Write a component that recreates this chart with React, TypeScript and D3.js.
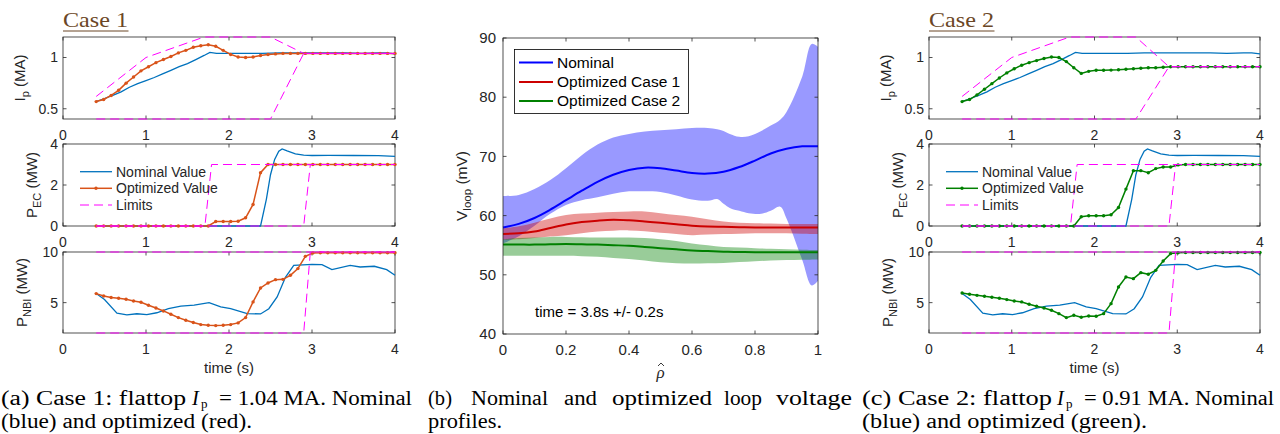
import React from 'react';
import * as d3 from 'd3';

// ---- time traces (s) ----
const tOpt = [0.4, 0.49, 0.58, 0.67, 0.76, 0.85, 0.94, 1.03, 1.12, 1.21, 1.3, 1.39, 1.48, 1.57, 1.66, 1.75, 1.84, 1.93, 2.02, 2.11,
  2.2, 2.29, 2.38, 2.47, 2.56, 2.65, 2.74, 2.83, 2.92, 3.01, 3.1, 3.19, 3.28, 3.37, 3.46, 3.55, 3.64, 3.73, 3.82, 3.91, 4.0];

const tIpNom = [0.4, 0.5, 0.6, 0.7, 0.8, 0.9, 1.0, 1.1, 1.2, 1.3, 1.4, 1.5, 1.6, 1.7, 1.77, 1.85, 2.0, 2.2, 2.4, 2.6, 2.8, 3.0, 3.2, 3.4, 3.6, 3.8, 3.9, 4.0];
const ipNom = [0.57, 0.6, 0.63, 0.665, 0.71, 0.745, 0.775, 0.805, 0.84, 0.875, 0.91, 0.94, 0.98, 1.02, 1.05, 1.04, 1.04, 1.04, 1.04, 1.045, 1.045, 1.045, 1.045, 1.045, 1.04, 1.045, 1.045, 1.035];

const ip1Opt = [0.57, 0.59, 0.63, 0.68, 0.75, 0.81, 0.87, 0.91, 0.95, 0.98, 1.01, 1.045, 1.07, 1.1, 1.115, 1.125, 1.11, 1.07, 1.03, 1.005,
  1.0, 1.005, 1.02, 1.03, 1.035, 1.04, 1.04, 1.04, 1.04, 1.04, 1.04, 1.04, 1.04, 1.04, 1.04, 1.04, 1.04, 1.04, 1.04, 1.04, 1.04];
const ip2Opt = [0.57, 0.59, 0.635, 0.69, 0.745, 0.8, 0.85, 0.89, 0.925, 0.95, 0.97, 0.99, 1.005, 1.0, 0.96, 0.9, 0.845, 0.865, 0.875, 0.875,
  0.877, 0.88, 0.885, 0.89, 0.895, 0.9, 0.9, 0.905, 0.91, 0.91, 0.91, 0.91, 0.91, 0.91, 0.91, 0.91, 0.91, 0.91, 0.91, 0.91, 0.91];

const tPecNom = [0.4, 2.38, 2.45, 2.5, 2.55, 2.6, 2.64, 2.7, 2.8, 2.9, 3.0, 3.2, 3.5, 3.8, 4.0];
const pecNom = [0, 0, 1.3, 2.5, 3.25, 3.65, 3.76, 3.66, 3.52, 3.46, 3.44, 3.45, 3.44, 3.43, 3.4];

const pec1Opt = [0, 0, 0, 0, 0, 0, 0, 0, 0, 0, 0, 0, 0, 0, 0, 0, 0.22, 0.22, 0.22, 0.23,
  0.4, 1.05, 2.6, 3.0, 3.0, 3.0, 3.0, 3.0, 3.0, 3.0, 3.0, 3.0, 3.0, 3.0, 3.0, 3.0, 3.0, 3.0, 3.0, 3.0, 3.0];
const pec2Opt = [0, 0, 0, 0, 0, 0, 0, 0, 0, 0, 0, 0, 0, 0, 0, 0, 0.45, 0.5, 0.5, 0.5,
  0.55, 0.9, 1.8, 2.7, 2.7, 2.6, 2.8, 2.88, 2.88, 2.98, 3.0, 3.0, 3.0, 3.0, 3.0, 3.0, 3.0, 3.0, 3.0, 3.0, 3.0];

const tNbiNom = [0.4, 0.5, 0.65, 0.77, 0.89, 1.01, 1.13, 1.27, 1.42, 1.58, 1.76, 1.9, 2.02, 2.22, 2.38, 2.48, 2.58, 2.68, 2.78, 3.0, 3.12, 3.24, 3.46, 3.58, 3.75, 3.9, 4.0];
const nbiNom = [5.9, 5.3, 3.95, 3.8, 3.9, 3.82, 4.0, 4.4, 4.65, 4.75, 5.0, 4.57, 4.4, 3.92, 3.88, 4.4, 5.56, 7.5, 8.68, 8.78, 8.76, 8.26, 8.68, 8.52, 8.59, 8.26, 7.7];

const nbi1Opt = [5.89, 5.66, 5.5, 5.43, 5.33, 5.16, 5.03, 4.74, 4.47, 4.18, 3.85, 3.52, 3.26, 3.03, 2.83, 2.76, 2.73, 2.76, 2.83, 3.0,
  3.52, 5.07, 6.45, 6.94, 7.27, 7.3, 7.7, 8.36, 9.57, 9.9, 9.92, 9.92, 9.92, 9.92, 9.92, 9.92, 9.92, 9.92, 9.92, 9.92, 9.92];
const nbi2Opt = [5.95, 5.82, 5.72, 5.63, 5.53, 5.43, 5.3, 5.16, 5.07, 4.84, 4.64, 4.47, 4.24, 3.91, 3.52, 3.75, 3.55, 3.68, 3.65, 3.91,
  4.9, 6.55, 7.53, 7.37, 7.96, 7.8, 8.19, 9.11, 9.84, 9.93, 9.95, 9.95, 9.95, 9.95, 9.95, 9.95, 9.95, 9.95, 9.95, 9.95, 9.95];

// limits (dashed)
const tIpUp = [0.4, 1.0, 1.7, 2.5, 2.9, 4.0];
const ipUp1 = [0.62, 1.0, 1.2, 1.2, 1.04, 1.04];
const ipUp2 = [0.62, 1.0, 1.2, 1.2, 0.91, 0.91];
const tIpLo = [0.4, 2.5, 2.9, 4.0];
const ipLo1 = [0.4, 0.4, 1.04, 1.04];
const ipLo2 = [0.4, 0.4, 0.91, 0.91];
const tPecUp = [0.4, 1.71, 1.79, 4.0];
const pecUp = [0, 0, 3, 3];
const tPecLo = [0.4, 2.9, 2.98, 4.0];
const pecLo = [0, 0, 3, 3];
const tNbiUp = [0.4, 4.0];
const nbiUp = [10, 10];
const tNbiLo = [0.4, 2.9, 2.98, 4.0];
const nbiLo = [2, 2, 10, 10];

// ---- loop voltage profiles (mV) ----
const rho = [0, 0.05, 0.1, 0.15, 0.2, 0.25, 0.3, 0.35, 0.4, 0.45, 0.5, 0.55, 0.6, 0.65, 0.7, 0.75, 0.8, 0.85, 0.9, 0.95, 1.0];
const vNom = [58.0, 58.6, 59.6, 61.0, 62.6, 64.2, 65.7, 66.9, 67.7, 68.1, 68.0, 67.6, 67.2, 67.1, 67.4, 68.2, 69.3, 70.5, 71.3, 71.7, 71.7];
const vOpt1 = [56.9, 57.0, 57.3, 57.9, 58.5, 58.9, 59.15, 59.3, 59.2, 59.0, 58.8, 58.55, 58.3, 58.15, 58.1, 58.05, 58.0, 58.0, 58.0, 58.0, 58.0];
const vOpt1Hi = [57.85, 58.2, 58.8, 59.5, 60.1, 60.35, 60.5, 60.6, 60.7, 60.7, 60.4, 60.1, 59.8, 59.4, 59.0, 58.8, 58.7, 58.65, 58.6, 58.6, 58.6];
const vOpt1Lo = [55.9, 56.0, 56.2, 56.45, 56.7, 57.0, 57.3, 57.45, 57.5, 57.35, 57.1, 56.9, 56.7, 56.8, 56.9, 56.95, 57.0, 57.0, 57.0, 56.95, 56.9];
const vOpt2 = [55.1, 55.1, 55.1, 55.15, 55.2, 55.15, 55.1, 55.0, 54.9, 54.7, 54.5, 54.3, 54.1, 54.0, 53.9, 53.85, 53.8, 53.8, 53.8, 53.8, 53.8];
const vOpt2Hi = [56.0, 56.2, 56.3, 56.4, 56.4, 56.35, 56.3, 56.3, 56.3, 56.2, 56.0, 55.7, 55.3, 55.0, 54.7, 54.6, 54.5, 54.4, 54.3, 54.25, 54.2];
const vOpt2Lo = [53.2, 53.2, 53.2, 53.2, 53.2, 53.15, 53.05, 52.85, 52.65, 52.4, 52.1, 51.95, 51.9, 51.95, 52.0, 52.15, 52.3, 52.4, 52.5, 52.55, 52.6];
const rhoNomBand = [0, 0.05, 0.1, 0.15, 0.2, 0.25, 0.3, 0.35, 0.4, 0.45, 0.5, 0.55, 0.6, 0.65, 0.68, 0.7, 0.72, 0.75, 0.78, 0.82, 0.85, 0.88, 0.9, 0.95, 0.98, 1.0];
const vNomHi = [63.3, 63.5, 64.5, 66.0, 68.0, 70.2, 72.0, 73.2, 73.8, 74.2, 74.4, 74.6, 74.8, 74.8, 74.6, 74.3, 73.8, 73.3, 73.4, 74.3, 75.2, 76.2, 77.5, 83.5, 89.0, 88.5];
const vNomLo = [55.3, 56.5, 58.3, 60.3, 61.8, 62.6, 63.1, 63.7, 64.1, 64.1, 64.0, 63.4, 62.7, 62.5, 62.8, 62.0, 61.3, 60.8, 60.4, 60.3, 60.8, 61.5, 59.5, 52.5, 48.2, 49.0];

const timeTicks = [0, 1, 2, 3, 4];
const rhoTicks = [0, 0.2, 0.4, 0.6, 0.8, 1];
const vTicks = [40, 50, 60, 70, 80, 90];

const SANS = '"Liberation Sans", Arial, Helvetica, sans-serif';
const SERIF = '"Liberation Serif", "DejaVu Serif", serif';
const AX = '#262626';
const BLUE = '#0072BD';
const ORANGE = '#D95319';
const GREEN = '#008000';
const MAGENTA = '#FF00FF';
const BROWN = '#6b4726';

const zip = (a: number[], b: number[]) => a.map((d, i) => [d, b[i]] as [number, number]);

function Panel(props: any) {
  const { left, right, top, bottom, domain, yTicks, label, sub, unit, labelX, nominal, optimized, limits, color } = props;
  const x = d3.scaleLinear().domain([0, 4]).range([left, right]);
  const y = d3.scaleLinear().domain(domain).range([bottom, top]);
  const line = d3.line<[number, number]>().x(d => x(d[0])).y(d => y(d[1]));
  const tk = 3.5;
  return (
    <g>
      <rect x={left} y={top} width={right - left} height={bottom - top} fill="#fff" stroke={AX} strokeWidth={0.8} />
      {timeTicks.map(t => (
        <g key={'x' + t}>
          <line x1={x(t)} x2={x(t)} y1={bottom} y2={bottom - tk} stroke={AX} strokeWidth={0.8} />
          <line x1={x(t)} x2={x(t)} y1={top} y2={top + tk} stroke={AX} strokeWidth={0.8} />
          <text x={x(t)} y={bottom + 21} textAnchor="middle" fontSize={14} fill={AX}>{t}</text>
        </g>
      ))}
      {yTicks.map((v: number) => (
        <g key={'y' + v}>
          <line x1={left} x2={left + tk} y1={y(v)} y2={y(v)} stroke={AX} strokeWidth={0.8} />
          <line x1={right} x2={right - tk} y1={y(v)} y2={y(v)} stroke={AX} strokeWidth={0.8} />
          <text x={left - 5} y={y(v)} dy="0.35em" textAnchor="end" fontSize={14} fill={AX}>{v}</text>
        </g>
      ))}
      <text transform={`translate(${labelX},${(top + bottom) / 2}) rotate(-90)`} textAnchor="middle" fontSize={15} fill={AX}>
        {label}<tspan dy={4} fontSize={11}>{sub}</tspan><tspan dy={-4}>{' ' + unit}</tspan>
      </text>
      <path d={line(nominal) || ''} fill="none" stroke={BLUE} strokeWidth={1.3} />
      <path d={line(optimized) || ''} fill="none" stroke={color} strokeWidth={1.5} />
      {optimized.map((d: [number, number], i: number) => (
        <circle key={i} cx={x(d[0])} cy={y(d[1])} r={1.7} fill={color} />
      ))}
      {limits.map((l: [number, number][], i: number) => (
        <path key={'l' + i} d={line(l) || ''} fill="none" stroke={MAGENTA} strokeWidth={1} strokeDasharray="9,5" />
      ))}
    </g>
  );
}

function CaseColumn(props: any) {
  const { left, right, title, color, ipOpt, ipUp, ipLo, pecOpt, nbiOpt } = props;
  const lx = left + 17;
  return (
    <g>
      <text x={left} y={27} fontFamily={SERIF} fontSize={22} fill={BROWN} textLength={65} lengthAdjust="spacingAndGlyphs">{title}</text>
      <line x1={left} x2={left + 65.5} y1={31} y2={31} stroke={BROWN} strokeWidth={1} />
      <Panel left={left} right={right} top={37} bottom={119} domain={[0.4, 1.2]} yTicks={[0.5, 1]}
        label="I" sub="p" unit="(MA)" labelX={left - 38} color={color}
        nominal={zip(tIpNom, ipNom)} optimized={zip(tOpt, ipOpt)}
        limits={[zip(tIpUp, ipUp), zip(tIpLo, ipLo)]} />
      <Panel left={left} right={right} top={144} bottom={226} domain={[0, 4]} yTicks={[0, 2, 4]}
        label="P" sub="EC" unit="(MW)" labelX={left - 26} color={color}
        nominal={zip(tPecNom, pecNom)} optimized={zip(tOpt, pecOpt)}
        limits={[zip(tPecUp, pecUp), zip(tPecLo, pecLo)]} />
      <Panel left={left} right={right} top={252} bottom={333} domain={[2, 10]} yTicks={[5, 10]}
        label="P" sub="NBI" unit="(MW)" labelX={left - 36} color={color}
        nominal={zip(tNbiNom, nbiNom)} optimized={zip(tOpt, nbiOpt)}
        limits={[zip(tNbiUp, nbiUp), zip(tNbiLo, nbiLo)]} />
      <g fontSize={14} fill={AX}>
        <line x1={lx} x2={lx + 32} y1={171.7} y2={171.7} stroke={BLUE} strokeWidth={1.3} />
        <text x={lx + 36} y={171.7} dy="0.35em">Nominal Value</text>
        <line x1={lx} x2={lx + 32} y1={188.3} y2={188.3} stroke={color} strokeWidth={1.5} />
        <circle cx={lx + 16} cy={188.3} r={1.7} fill={color} />
        <text x={lx + 36} y={188.3} dy="0.35em">Optimized Value</text>
        <line x1={lx} x2={lx + 32} y1={205} y2={205} stroke={MAGENTA} strokeWidth={1} strokeDasharray="9,5" />
        <text x={lx + 36} y={205} dy="0.35em">Limits</text>
      </g>
      <text x={(left + right) / 2} y={373} textAnchor="middle" fontSize={15} fill={AX}>time (s)</text>
    </g>
  );
}

function ProfilePanel() {
  const left = 503, right = 818, top = 38, bottom = 334;
  const x = d3.scaleLinear().domain([0, 1]).range([left, right]);
  const y = d3.scaleLinear().domain([40, 90]).range([bottom, top]);
  const line = d3.line<[number, number]>().x(d => x(d[0])).y(d => y(d[1])).curve(d3.curveCatmullRom);
  const area = d3.area<[number, number, number]>().x(d => x(d[0])).y0(d => y(d[1])).y1(d => y(d[2])).curve(d3.curveCatmullRom);
  const band = (r: number[], lo: number[], hi: number[]) => r.map((d, i) => [d, lo[i], hi[i]] as [number, number, number]);
  const tk = 3.5;
  const cx = (left + right) / 2;
  const legend = [
    { name: 'Nominal', color: '#0000ff', y: 62.5 },
    { name: 'Optimized Case 1', color: '#cc0000', y: 82 },
    { name: 'Optimized Case 2', color: GREEN, y: 101 },
  ];
  return (
    <g>
      <rect x={left} y={top} width={right - left} height={bottom - top} fill="#fff" />
      <path d={area(band(rhoNomBand, vNomLo, vNomHi)) || ''} fill="#0000ff" fillOpacity={0.4} />
      <path d={area(band(rho, vOpt1Lo, vOpt1Hi)) || ''} fill="#cc0000" fillOpacity={0.4} />
      <path d={area(band(rho, vOpt2Lo, vOpt2Hi)) || ''} fill={GREEN} fillOpacity={0.4} />
      <path d={line(zip(rho, vNom)) || ''} fill="none" stroke="#0000ff" strokeWidth={2} />
      <path d={line(zip(rho, vOpt1)) || ''} fill="none" stroke="#cc0000" strokeWidth={2} />
      <path d={line(zip(rho, vOpt2)) || ''} fill="none" stroke={GREEN} strokeWidth={2} />
      <rect x={left} y={top} width={right - left} height={bottom - top} fill="none" stroke={AX} strokeWidth={0.8} />
      {rhoTicks.map(t => (
        <g key={'x' + t}>
          <line x1={x(t)} x2={x(t)} y1={bottom} y2={bottom - tk} stroke={AX} strokeWidth={0.8} />
          <line x1={x(t)} x2={x(t)} y1={top} y2={top + tk} stroke={AX} strokeWidth={0.8} />
          <text x={x(t)} y={bottom + 21} textAnchor="middle" fontSize={15} fill={AX}>{t}</text>
        </g>
      ))}
      {vTicks.map(v => (
        <g key={'y' + v}>
          <line x1={left} x2={left + tk} y1={y(v)} y2={y(v)} stroke={AX} strokeWidth={0.8} />
          <line x1={right} x2={right - tk} y1={y(v)} y2={y(v)} stroke={AX} strokeWidth={0.8} />
          <text x={left - 7} y={y(v)} dy="0.35em" textAnchor="end" fontSize={15} fill={AX}>{v}</text>
        </g>
      ))}
      <text transform={`translate(${left - 36},${(top + bottom) / 2}) rotate(-90)`} textAnchor="middle" fontSize={15.5} fill={AX}>
        V<tspan dy={4} fontSize={11.5}>loop</tspan><tspan dy={-4}> (mV)</tspan>
      </text>
      <text x={cx} y={378} textAnchor="middle" fontFamily={SERIF} fontStyle="italic" fontSize={17} fill={AX}>ρ</text>
      <path d={`M${cx - 2.5},${366} L${cx + 0.5},${363} L${cx + 3.5},${366}`} fill="none" stroke={AX} strokeWidth={0.9} />
      <text x={535} y={312} dy="0.35em" fontSize={15} fill="#000">time = 3.8s +/- 0.2s</text>
      <rect x={514.5} y={49.5} width={174} height={64} fill="#fff" stroke="#000" strokeWidth={0.8} />
      {legend.map(l => (
        <g key={l.name}>
          <line x1={519} x2={553} y1={l.y} y2={l.y} stroke={l.color} strokeWidth={2} />
          <text x={557} y={l.y} dy="0.35em" fontSize={15.5} fill="#000">{l.name}</text>
        </g>
      ))}
    </g>
  );
}

// caption: "(x) Case n: flattop" then "I_p = ... MA. Nominal" as justified pieces
function CaseCaption(props: any) {
  const { x0, tag, n, ip, w1, x2, w2, line2, w3 } = props;
  return (
    <g>
      <text x={x0} y={405} textLength={w1} lengthAdjust="spacingAndGlyphs">{`(${tag}) Case ${n}: flattop`}</text>
      <text x={x2} y={405} fontStyle="italic">I</text>
      <text x={x2 + 9} y={407.5} fontSize={13}>p</text>
      <text x={x2 + 27} y={405} textLength={w2} lengthAdjust="spacingAndGlyphs">{`= ${ip} MA. Nominal`}</text>
      <text x={x0} y={428} textLength={w3} lengthAdjust="spacingAndGlyphs">{line2}</text>
    </g>
  );
}

const captionB = [
  { w: '(b)', x: 428, len: 24 },
  { w: 'Nominal', x: 471, len: 77 },
  { w: 'and', x: 564, len: 33 },
  { w: 'optimized', x: 612, len: 100 },
  { w: 'loop', x: 724, len: 38 },
  { w: 'voltage', x: 776, len: 76 },
];

export default function App() {
  return (
    <svg width={1280} height={434} style={{ position: 'absolute', left: 0, top: 0, background: '#fff' }} fontFamily={SANS}>
      <rect width={1280} height={434} fill="#fff" />
      <CaseColumn left={63} right={395} title="Case 1" color={ORANGE}
        ipOpt={ip1Opt} ipUp={ipUp1} ipLo={ipLo1} pecOpt={pec1Opt} nbiOpt={nbi1Opt} />
      <ProfilePanel />
      <CaseColumn left={929} right={1260} title="Case 2" color={GREEN}
        ipOpt={ip2Opt} ipUp={ipUp2} ipLo={ipLo2} pecOpt={pec2Opt} nbiOpt={nbi2Opt} />
      <g fontFamily={SERIF} fontSize={20.5} fill="#000">
        <CaseCaption x0={1} tag="a" n={1} ip="1.04" w1={185} x2={192} w2={193} line2="(blue) and optimized (red)." w3={251} />
        <CaseCaption x0={862} tag="c" n={2} ip="0.91" w1={190} x2={1057} w2={190} line2="(blue) and optimized (green)." w3={285} />
        {captionB.map(c => (
          <text key={c.w} x={c.x} y={405} textLength={c.len} lengthAdjust="spacingAndGlyphs">{c.w}</text>
        ))}
        <text x={428} y={428} textLength={74} lengthAdjust="spacingAndGlyphs">profiles.</text>
      </g>
    </svg>
  );
}
